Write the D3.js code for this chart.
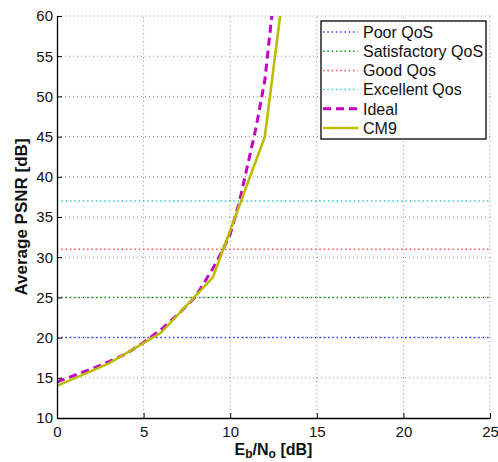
<!DOCTYPE html>
<html>
<head>
<meta charset="utf-8">
<script src="https://cdn.jsdelivr.net/npm/d3@7"></script>
<style>
  body { margin: 0; background: #fff; }
  text { font-family: "Liberation Sans", Arial, sans-serif; }
</style>
</head>
<body>
<div id="container"></div>
<script>
// data
const xTicks = [0, 5, 10, 15, 20, 25];
const yTicks = [10, 15, 20, 25, 30, 35, 40, 45, 50, 55, 60];

const idealX = [0, 1, 2, 3, 4, 5, 6, 7, 8, 9, 9.5, 10, 10.5, 11, 11.5, 12, 12.5];
const idealY = [14.5, 15.3, 16.1, 17.0, 18.0, 19.4, 21.0, 22.9, 25.1, 28.6, 30.6, 32.9, 36.6, 41.4, 46.2, 52.0, 62.0];

const cm9X = [0, 3, 6, 9, 12, 13];
const cm9Y = [14.0, 16.8, 20.6, 27.5, 45.0, 62.0];

const qosNames = ['Poor QoS', 'Satisfactory QoS', 'Good Qos', 'Excellent Qos'];
const qosLevels = [20, 25, 31, 37];
const qosColors = ['#3a3aff', '#169016', '#ff5050', '#30caca'];

const width = 498; const height = 462;
const margin = {left: 57, right: 8, top: 16, bottom: 44};

const svg = d3.select('#container').append('svg')
    .attr('width', width)
    .attr('height', height);

const x = d3.scaleLinear().domain([0, 25]).range([margin.left, width - margin.right]);
const y = d3.scaleLinear().domain([10, 60]).range([height - margin.bottom, margin.top]);

svg.append('defs').append('clipPath').attr('id', 'clip')
    .append('rect')
    .attr('x', x(0)).attr('y', y(60))
    .attr('width', x(25) - x(0)).attr('height', y(10) - y(60));

// grid
const grid = svg.append('g').attr('stroke', '#777').attr('stroke-width', 0.8)
    .attr('stroke-dasharray', '1,3');
grid.selectAll('.gx').data(xTicks.slice(1)).enter().append('line')
    .attr('x1', (d) => x(d)).attr('x2', (d) => x(d))
    .attr('y1', y(10)).attr('y2', y(60));
grid.selectAll('.gy').data(yTicks.slice(1)).enter().append('line')
    .attr('x1', x(0)).attr('x2', x(25))
    .attr('y1', (d) => y(d)).attr('y2', (d) => y(d));

const plot = svg.append('g').attr('clip-path', 'url(#clip)');

// QoS thresholds
plot.selectAll('.qos').data(qosLevels).enter().append('line')
    .attr('x1', x(0)).attr('x2', x(25))
    .attr('y1', (d) => y(d)).attr('y2', (d) => y(d))
    .attr('stroke', (d, i) => qosColors[i])
    .attr('stroke-width', 1.5)
    .attr('stroke-dasharray', '1.5,2.8');

const line = d3.line().x((d) => x(d[0])).y((d) => y(d[1]));

plot.append('path')
    .datum(idealX.map((v, i) => [v, idealY[i]]))
    .attr('d', line)
    .attr('fill', 'none')
    .attr('stroke', '#c400c4')
    .attr('stroke-width', 3)
    .attr('stroke-dasharray', '8,5');

plot.append('path')
    .datum(cm9X.map((v, i) => [v, cm9Y[i]]))
    .attr('d', line)
    .attr('fill', 'none')
    .attr('stroke', '#bcbc00')
    .attr('stroke-width', 2.6);

// axes
const xAxis = svg.append('g').attr('transform', 'translate(0,' + y(10) + ')')
    .call(d3.axisBottom(x).tickValues(xTicks).tickSizeInner(-5).tickSizeOuter(0).tickPadding(8));
const yAxis = svg.append('g').attr('transform', 'translate(' + x(0) + ',0)')
    .call(d3.axisLeft(y).tickValues(yTicks).tickSizeInner(-5).tickSizeOuter(0).tickPadding(4));

[xAxis, yAxis].forEach((a) => {
  a.select('.domain').attr('stroke', '#000').attr('stroke-width', 1.3);
  a.selectAll('.tick line').attr('stroke', '#000');
  a.selectAll('.tick text').attr('fill', '#111')
      .style('font-size', '15px').style('font-family', '"Liberation Sans", Arial, sans-serif');
});
xAxis.selectAll('.tick text').attr('dy', '0.72em');

// axis labels
const xl = svg.append('text')
    .attr('x', (x(0) + x(25)) / 2).attr('y', 455)
    .attr('text-anchor', 'middle')
    .style('font-size', '16px').style('font-weight', 'bold').attr('fill', '#111');
xl.append('tspan').text('E');
xl.append('tspan').attr('dy', 3).style('font-size', '12px').text('b');
xl.append('tspan').attr('dy', -3).text('/N');
xl.append('tspan').attr('dy', 3).style('font-size', '12px').text('o');
xl.append('tspan').attr('dy', -3).text(' [dB]');

svg.append('text')
    .attr('transform', 'translate(27,' + ((y(10) + y(60)) / 2) + ') rotate(-90)')
    .attr('text-anchor', 'middle')
    .style('font-size', '17px').style('font-weight', 'bold').attr('fill', '#111')
    .text('Average PSNR [dB]');

// legend
const legend = svg.append('g').attr('transform', 'translate(321,21)');
legend.append('rect').attr('width', 165).attr('height', 118)
    .attr('fill', '#fff').attr('stroke', '#000').attr('stroke-width', 1.3);

const legendItems = qosNames.map((n, i) => ({name: n, color: qosColors[i], dash: '1.5,2.8', w: 1.5}))
    .concat([{name: 'Ideal', color: '#c400c4', dash: '8,5', w: 3},
      {name: 'CM9', color: '#bcbc00', dash: null, w: 2.6}]);

const li = legend.selectAll('.li').data(legendItems).enter().append('g')
    .attr('transform', (d, i) => 'translate(0,' + (11 + i * 19.2) + ')');
li.append('line').attr('x1', 2).attr('x2', 37)
    .attr('stroke', (d) => d.color)
    .attr('stroke-width', (d) => d.w)
    .attr('stroke-dasharray', (d) => d.dash);
li.append('text').attr('x', 42).attr('dy', '0.36em')
    .style('font-size', '16px').attr('fill', '#111')
    .text((d) => d.name);
</script>
</body>
</html>
